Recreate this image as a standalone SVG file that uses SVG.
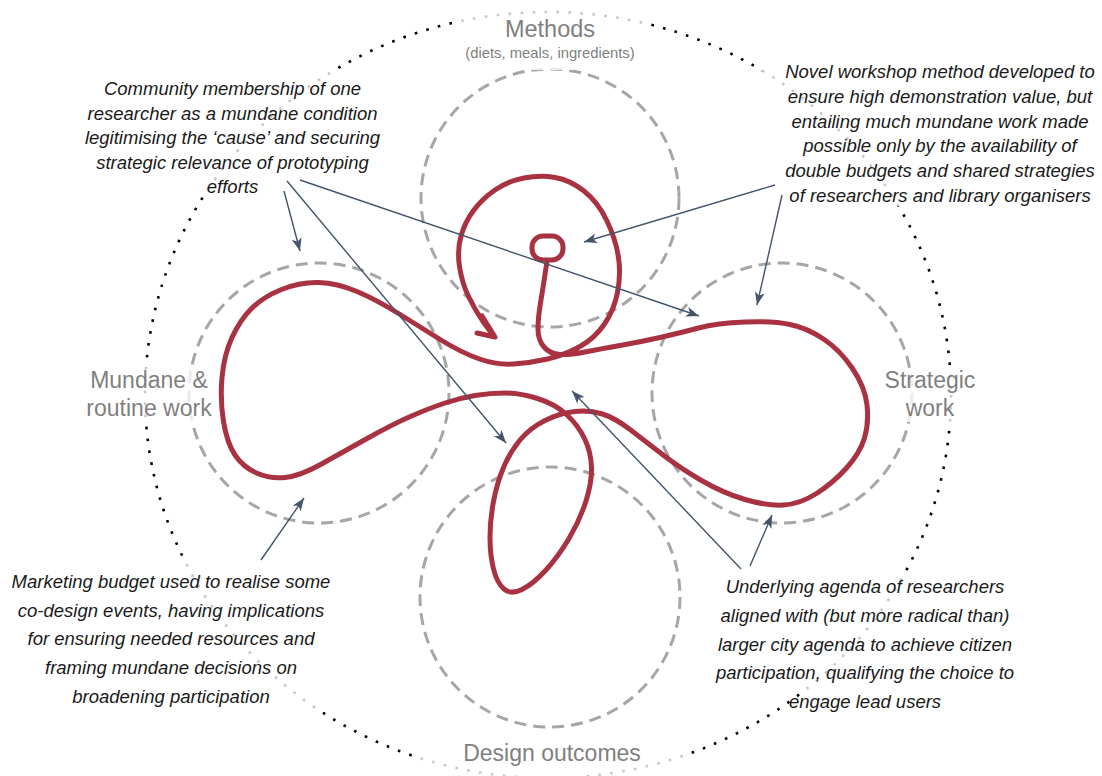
<svg xmlns="http://www.w3.org/2000/svg" width="1102" height="776" viewBox="0 0 1102 776">
<style>
.label{font-family:"Liberation Sans",Arial,sans-serif;fill:#7f7f7f;text-anchor:middle;}
.note{font-family:"Liberation Sans",Arial,sans-serif;font-style:italic;font-size:18.5px;fill:#1a1a1a;text-anchor:middle;}
.zone{fill:none;stroke:#a6a6a6;stroke-width:3;stroke-dasharray:12 7;}
.veil{fill:#ffffff;fill-opacity:0.78;stroke:none;}
.conn{fill:none;stroke:#44546a;stroke-width:1.4;marker-end:url(#ah);}
.red{fill:none;stroke:#a83241;stroke-width:5;stroke-linecap:round;stroke-linejoin:round;}
</style>
<defs>
<marker id="ah" markerUnits="userSpaceOnUse" markerWidth="16" markerHeight="12" refX="13" refY="5" orient="auto">
<path d="M0,0 L13,5 L0,10 L3.5,5 Z" fill="#44546a"/>
</marker>
</defs>
<rect width="1102" height="776" fill="#ffffff"/>
<g id="boundary">
<ellipse cx="548" cy="395" rx="403" ry="383" fill="none" stroke="#000000" stroke-width="2.6" stroke-dasharray="2.6 9.4"/>
</g>
<g id="zones">
<circle class="zone" cx="550" cy="198" r="129"/>
<circle class="zone" cx="319" cy="393" r="130"/>
<circle class="zone" cx="782" cy="393" r="130"/>
<circle class="zone" cx="550" cy="597" r="130"/>
</g>
<g id="trajectory">
<rect class="red" x="532" y="236" width="31" height="24" rx="11" ry="11"/>
<path class="red" d="M547 261 L545 274.5 Q543 288 540.5 303 Q538 318 538 329 Q538 340 544 347 Q550 354 560 354.5 Q570 355 585 352 Q600 349 620 345.5 Q640 342 660 337.5 Q680 333 698.5 328 Q717 323 745 322 Q773 321 790 324.5 Q807 328 823.5 339 Q840 350 852.5 368.5 Q865 387 867 405 Q869 423 864.5 438 Q860 453 846.5 468 Q833 483 816.5 493.5 Q800 504 783.5 505 Q767 506 745 499.5 Q723 493 701.5 480.5 Q680 468 662.5 454.5 Q645 441 630 429.5 Q615 418 602.5 414 Q590 410 575 411.5 Q560 413 545 420.5 Q530 428 520 440 Q510 452 503.5 467.5 Q497 483 493.5 501.5 Q490 520 490 537.5 Q490 555 493.5 569 Q497 583 504 589 Q511 595 522 589.5 Q533 584 545.5 570.5 Q558 557 569 538.5 Q580 520 586 501 Q592 482 591.5 467 Q591 452 584.5 438.5 Q578 425 566.5 414.5 Q555 404 537.5 398.5 Q520 393 505 393 Q490 393 475 395.5 Q460 398 445 403 Q430 408 411.5 416 Q393 424 368 438 Q343 452 321.5 464 Q300 476 285 477.5 Q270 479 256.5 473 Q243 467 235 455 Q227 443 223.5 421.5 Q220 400 222 377.5 Q224 355 232 337.5 Q240 320 251.5 308.5 Q263 297 281.5 289.5 Q300 282 318.5 282.5 Q337 283 357 291.5 Q377 300 398.5 313.5 Q420 327 441 340 Q462 353 479.5 359 Q497 365 513.5 364 Q530 363 547.5 359 Q565 355 580 346.5 Q595 338 604.5 324 Q614 310 617.5 292.5 Q621 275 618.5 257.5 Q616 240 607 221 Q598 202 584 191 Q570 180 555 177.5 Q540 175 524 178 Q508 181 495 190 Q482 199 473.5 210.5 Q465 222 461 236 Q457 250 459.5 266.5 Q462 283 468.5 296.5 Q475 310 484 323 L493 335"/>
<path class="red" d="M482 316 L495 337 L477 333"/>
</g>
<g id="veils">
<rect class="veil" x="455" y="8" width="190" height="62"/>
<rect class="veil" x="80" y="70" width="305" height="126"/>
<rect class="veil" x="762" y="56" width="340" height="150"/>
<rect class="veil" x="0" y="556" width="325" height="156"/>
<rect class="veil" x="705" y="571" width="320" height="121"/>
<rect class="veil" x="420" y="738" width="265" height="38"/>
<rect class="veil" x="82" y="366" width="132" height="58"/>
<rect class="veil" x="882" y="368" width="98" height="54"/>
</g>
<g id="methods">
<text class="label" x="550" y="37" font-size="23.5">Methods</text>
<text class="label" x="550" y="58" font-size="14.8">(diets, meals, ingredients)</text>
</g>
<g id="mundane">
<text class="label" x="149" y="388" font-size="23">Mundane &amp;</text>
<text class="label" x="149" y="416" font-size="23">routine work</text>
</g>
<g id="strategic">
<text class="label" x="930" y="388" font-size="23">Strategic</text>
<text class="label" x="930" y="416" font-size="23">work</text>
</g>
<g id="design">
<text class="label" x="552" y="761" font-size="23">Design outcomes</text>
</g>
<g id="note-community">
<text class="note" x="232.5" y="95">Community membership of one</text>
<text class="note" x="232.5" y="119.5">researcher as a mundane condition</text>
<text class="note" x="232.5" y="144">legitimising the ‘cause’ and securing</text>
<text class="note" x="232.5" y="168.5">strategic relevance of prototyping</text>
<text class="note" x="232.5" y="193">efforts</text>
</g>
<g id="note-workshop">
<text class="note" x="940" y="78">Novel workshop method developed to</text>
<text class="note" x="940" y="102.8">ensure high demonstration value, but</text>
<text class="note" x="940" y="127.6">entailing much mundane work made</text>
<text class="note" x="940" y="152.4">possible only by the availability of</text>
<text class="note" x="940" y="177.2">double budgets and shared strategies</text>
<text class="note" x="940" y="202">of researchers and library organisers</text>
</g>
<g id="note-marketing">
<text class="note" x="171" y="588">Marketing budget used to realise some</text>
<text class="note" x="171" y="616.7">co-design events, having implications</text>
<text class="note" x="171" y="645.4">for ensuring needed resources and</text>
<text class="note" x="171" y="674">framing mundane decisions on</text>
<text class="note" x="171" y="702.7">broadening participation</text>
</g>
<g id="note-agenda">
<text class="note" x="865" y="593">Underlying agenda of researchers</text>
<text class="note" x="865" y="621.8">aligned with (but more radical than)</text>
<text class="note" x="865" y="650.6">larger city agenda to achieve citizen</text>
<text class="note" x="865" y="679.4">participation, qualifying the choice to</text>
<text class="note" x="865" y="708">engage lead users</text>
</g>
<g id="connectors">
<line class="conn" x1="284" y1="191" x2="300" y2="251"/>
<line class="conn" x1="287" y1="181" x2="506" y2="443"/>
<line class="conn" x1="300" y1="180" x2="699" y2="316"/>
<line class="conn" x1="775" y1="185" x2="584" y2="242"/>
<line class="conn" x1="782" y1="195" x2="757" y2="305"/>
<line class="conn" x1="261" y1="560" x2="304" y2="498"/>
<line class="conn" x1="741" y1="569" x2="572" y2="391"/>
<line class="conn" x1="750" y1="566" x2="772" y2="515"/>
</g>
</svg>
